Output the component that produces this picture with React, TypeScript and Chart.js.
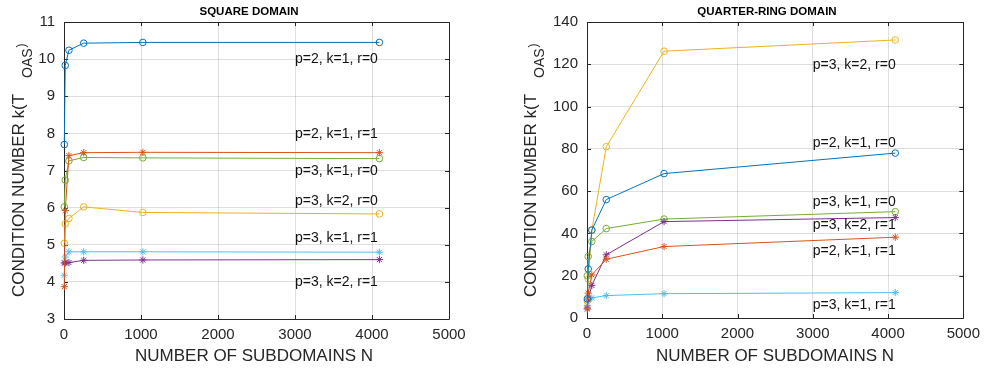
import React, { useEffect, useRef } from "react";
import { Chart, registerables } from "chart.js";
Chart.register(...registerables);

const subdomains = [4, 16, 64, 256, 1024, 4096];

// SQUARE DOMAIN
const sqP2K1R0 = [7.7, 9.83, 10.24, 10.43, 10.45, 10.45];
const sqP2K1R1 = [3.87, 5.92, 7.4, 7.48, 7.49, 7.48];
const sqP3K1R0 = [6.02, 6.74, 7.26, 7.35, 7.34, 7.32];
const sqP3K2R0 = [5.04, 5.56, 5.71, 6.02, 5.87, 5.83];
const sqP3K1R1 = [4.18, 4.67, 4.81, 4.81, 4.81, 4.8];
const sqP3K2R1 = [4.51, 4.51, 4.52, 4.58, 4.59, 4.6];

// QUARTER-RING DOMAIN
const qrP3K2R0 = [8, 18.5, 41.5, 81, 126.2, 131.5];
const qrP2K1R0 = [9, 23.2, 41.6, 56, 68.3, 78];
const qrP3K1R0 = [20, 29.1, 36.2, 42.3, 46.8, 50.3];
const qrP3K2R1 = [4.7, 9, 15.4, 29.9, 45.6, 47.5];
const qrP2K1R1 = [4.2, 11.8, 20.4, 27.8, 33.8, 38.2];
const qrP3K1R1 = [6, 8.5, 9.5, 10.6, 11.5, 12];

// annotation labels: [text, y-value], placed at x = 3000
const sqLabels: [string, number][] = [
  ["p=2, k=1, r=0", 10],
  ["p=2, k=1, r=1", 7.97],
  ["p=3, k=1, r=0", 6.98],
  ["p=3, k=2, r=0", 6.18],
  ["p=3, k=1, r=1", 5.17],
  ["p=3, k=2, r=1", 4.0],
];
const qrLabels: [string, number][] = [
  ["p=3, k=2, r=0", 119.5],
  ["p=2, k=1, r=0", 82.6],
  ["p=3, k=1, r=0", 54.6],
  ["p=3, k=2, r=1", 44],
  ["p=2, k=1, r=1", 31.4],
  ["p=3, k=1, r=1", 6.3],
];
const labelX = 3000;

const C_BLUE = "#0072BD";
const C_ORANGE = "#D95319";
const C_YELLOW = "#EDB120";
const C_PURPLE = "#7E2F8E";
const C_GREEN = "#77AC30";
const C_CYAN = "#4DBEEE";

const FONT = "'Liberation Sans', Arial, Helvetica, sans-serif";
const AX = "#262626";
const H = 368;

function ds(data: number[], color: string, style: string) {
  return {
    data: data.map((v, i) => ({ x: subdomains[i], y: v })),
    borderColor: color,
    backgroundColor: "transparent",
    borderWidth: 1,
    pointStyle: style,
    pointRadius: style === "circle" ? 3.3 : 3.6,
    pointBorderWidth: 1,
    pointBackgroundColor: "transparent",
    pointBorderColor: color,
    tension: 0,
    clip: false as any,
  };
}

type Cfg = {
  width: number;
  area: { left: number; right: number; top: number; bottom: number };
  yMin: number;
  yMax: number;
  yStep: number;
  title: string;
  titleX: number;
  yTitleX: number;
  xTitleX: number;
  datasets: any[];
  labels: [string, number][];
};

function makeChart(canvas: HTMLCanvasElement, cfg: Cfg) {
  const deco = {
    id: "deco",
    beforeDatasetsDraw(chart: any) {
      const ctx = chart.ctx;
      const a = chart.chartArea;
      const xs = chart.scales.x;
      const ys = chart.scales.y;
      ctx.save();
      ctx.strokeStyle = AX;
      ctx.lineWidth = 1;
      ctx.beginPath();
      ctx.rect(Math.round(a.left) + 0.5, Math.round(a.top) + 0.5, Math.round(a.right - a.left), Math.round(a.bottom - a.top));
      ctx.stroke();
      const tl = 4;
      ctx.beginPath();
      for (let v = 0; v <= 5000; v += 1000) {
        const px = Math.round(xs.getPixelForValue(v)) + 0.5;
        ctx.moveTo(px, a.bottom);
        ctx.lineTo(px, a.bottom - tl);
        ctx.moveTo(px, a.top);
        ctx.lineTo(px, a.top + tl);
      }
      for (let v = cfg.yMin; v <= cfg.yMax + 1e-9; v += cfg.yStep) {
        const py = Math.round(ys.getPixelForValue(v)) + 0.5;
        ctx.moveTo(a.left, py);
        ctx.lineTo(a.left + tl, py);
        ctx.moveTo(a.right, py);
        ctx.lineTo(a.right - tl, py);
      }
      ctx.stroke();
      ctx.restore();
    },
    afterDraw(chart: any) {
      const ctx = chart.ctx;
      const xs = chart.scales.x;
      const ys = chart.scales.y;
      ctx.save();
      // annotations
      ctx.fillStyle = "#111";
      ctx.font = `14px ${FONT}`;
      ctx.textAlign = "left";
      ctx.textBaseline = "middle";
      for (const [t, v] of cfg.labels) {
        ctx.fillText(t, xs.getPixelForValue(labelX), ys.getPixelForValue(v));
      }
      // title
      ctx.fillStyle = "#000";
      ctx.font = `bold 11.5px ${FONT}`;
      ctx.textAlign = "center";
      ctx.fillText(cfg.title, cfg.titleX, 12);
      // x title
      ctx.fillStyle = AX;
      ctx.font = `17px ${FONT}`;
      ctx.fillText("NUMBER OF SUBDOMAINS N", cfg.xTitleX, 356);
      // y title
      ctx.translate(cfg.yTitleX, 297);
      ctx.rotate(-Math.PI / 2);
      ctx.textAlign = "left";
      ctx.font = `17px ${FONT}`;
      const main = "CONDITION NUMBER k(T";
      const wMain = ctx.measureText(main).width;
      ctx.fillText(main, 0, 0);
      ctx.font = `14px ${FONT}`;
      const sx = wMain + 16;
      ctx.fillText("OAS", sx, 9);
      const wSub = ctx.measureText("OAS").width;
      ctx.font = `12px ${FONT}`;
      ctx.fillText(")", sx + wSub + 1, 3);
      ctx.restore();
    },
  };

  const tickFont = { family: FONT, size: 15 };
  const fmt = (v: any) => String(v);
  return new Chart(canvas, {
    type: "line",
    data: { datasets: cfg.datasets },
    plugins: [deco],
    options: {
      animation: false,
      responsive: false,
      maintainAspectRatio: false,
      layout: { padding: { left: 0, right: cfg.width - cfg.area.right, top: cfg.area.top, bottom: 0 } },
      plugins: { legend: { display: false }, tooltip: { enabled: false }, title: { display: false } },
      scales: {
        x: {
          type: "linear",
          min: 0,
          max: 5000,
          ticks: { stepSize: 1000, font: tickFont, color: AX, padding: 7, maxRotation: 0, autoSkip: false, callback: fmt },
          grid: { color: "rgba(38,38,38,0.15)", drawTicks: false },
          border: { display: false },
          afterFit: (s: any) => {
            s.height = H - cfg.area.bottom;
          },
        },
        y: {
          type: "linear",
          min: cfg.yMin,
          max: cfg.yMax,
          ticks: { stepSize: cfg.yStep, font: tickFont, color: AX, padding: 9, autoSkip: false, callback: fmt },
          grid: { color: "rgba(38,38,38,0.15)", drawTicks: false },
          border: { display: false },
          afterFit: (s: any) => {
            s.width = cfg.area.left;
          },
        },
      },
    } as any,
  });
}

export default function App() {
  const leftRef = useRef<HTMLCanvasElement>(null);
  const rightRef = useRef<HTMLCanvasElement>(null);

  useEffect(() => {
    const c1 = makeChart(leftRef.current!, {
      width: 493,
      area: { left: 64, right: 449, top: 22, bottom: 319 },
      yMin: 3,
      yMax: 11,
      yStep: 1,
      title: "SQUARE DOMAIN",
      titleX: 249,
      yTitleX: 19,
      xTitleX: 254,
      labels: sqLabels,
      datasets: [
        ds(sqP2K1R0, C_BLUE, "circle"),
        ds(sqP2K1R1, C_ORANGE, "star"),
        ds(sqP3K2R0, C_YELLOW, "circle"),
        ds(sqP3K2R1, C_PURPLE, "star"),
        ds(sqP3K1R0, C_GREEN, "circle"),
        ds(sqP3K1R1, C_CYAN, "star"),
      ],
    });
    const c2 = makeChart(rightRef.current!, {
      width: 494,
      area: { left: 94, right: 477, top: 22, bottom: 318 },
      yMin: 0,
      yMax: 140,
      yStep: 20,
      title: "QUARTER-RING DOMAIN",
      titleX: 274,
      yTitleX: 38,
      xTitleX: 282,
      labels: qrLabels,
      datasets: [
        ds(qrP2K1R0, C_BLUE, "circle"),
        ds(qrP2K1R1, C_ORANGE, "star"),
        ds(qrP3K2R0, C_YELLOW, "circle"),
        ds(qrP3K2R1, C_PURPLE, "star"),
        ds(qrP3K1R0, C_GREEN, "circle"),
        ds(qrP3K1R1, C_CYAN, "star"),
      ],
    });
    return () => {
      c1.destroy();
      c2.destroy();
    };
  }, []);

  return (
    <div style={{ position: "absolute", left: 0, top: 0, width: 987, height: 368, background: "#fff" }}>
      <canvas ref={leftRef} width={493} height={368} style={{ position: "absolute", left: 0, top: 0 }} />
      <canvas ref={rightRef} width={494} height={368} style={{ position: "absolute", left: 493, top: 0 }} />
    </div>
  );
}
